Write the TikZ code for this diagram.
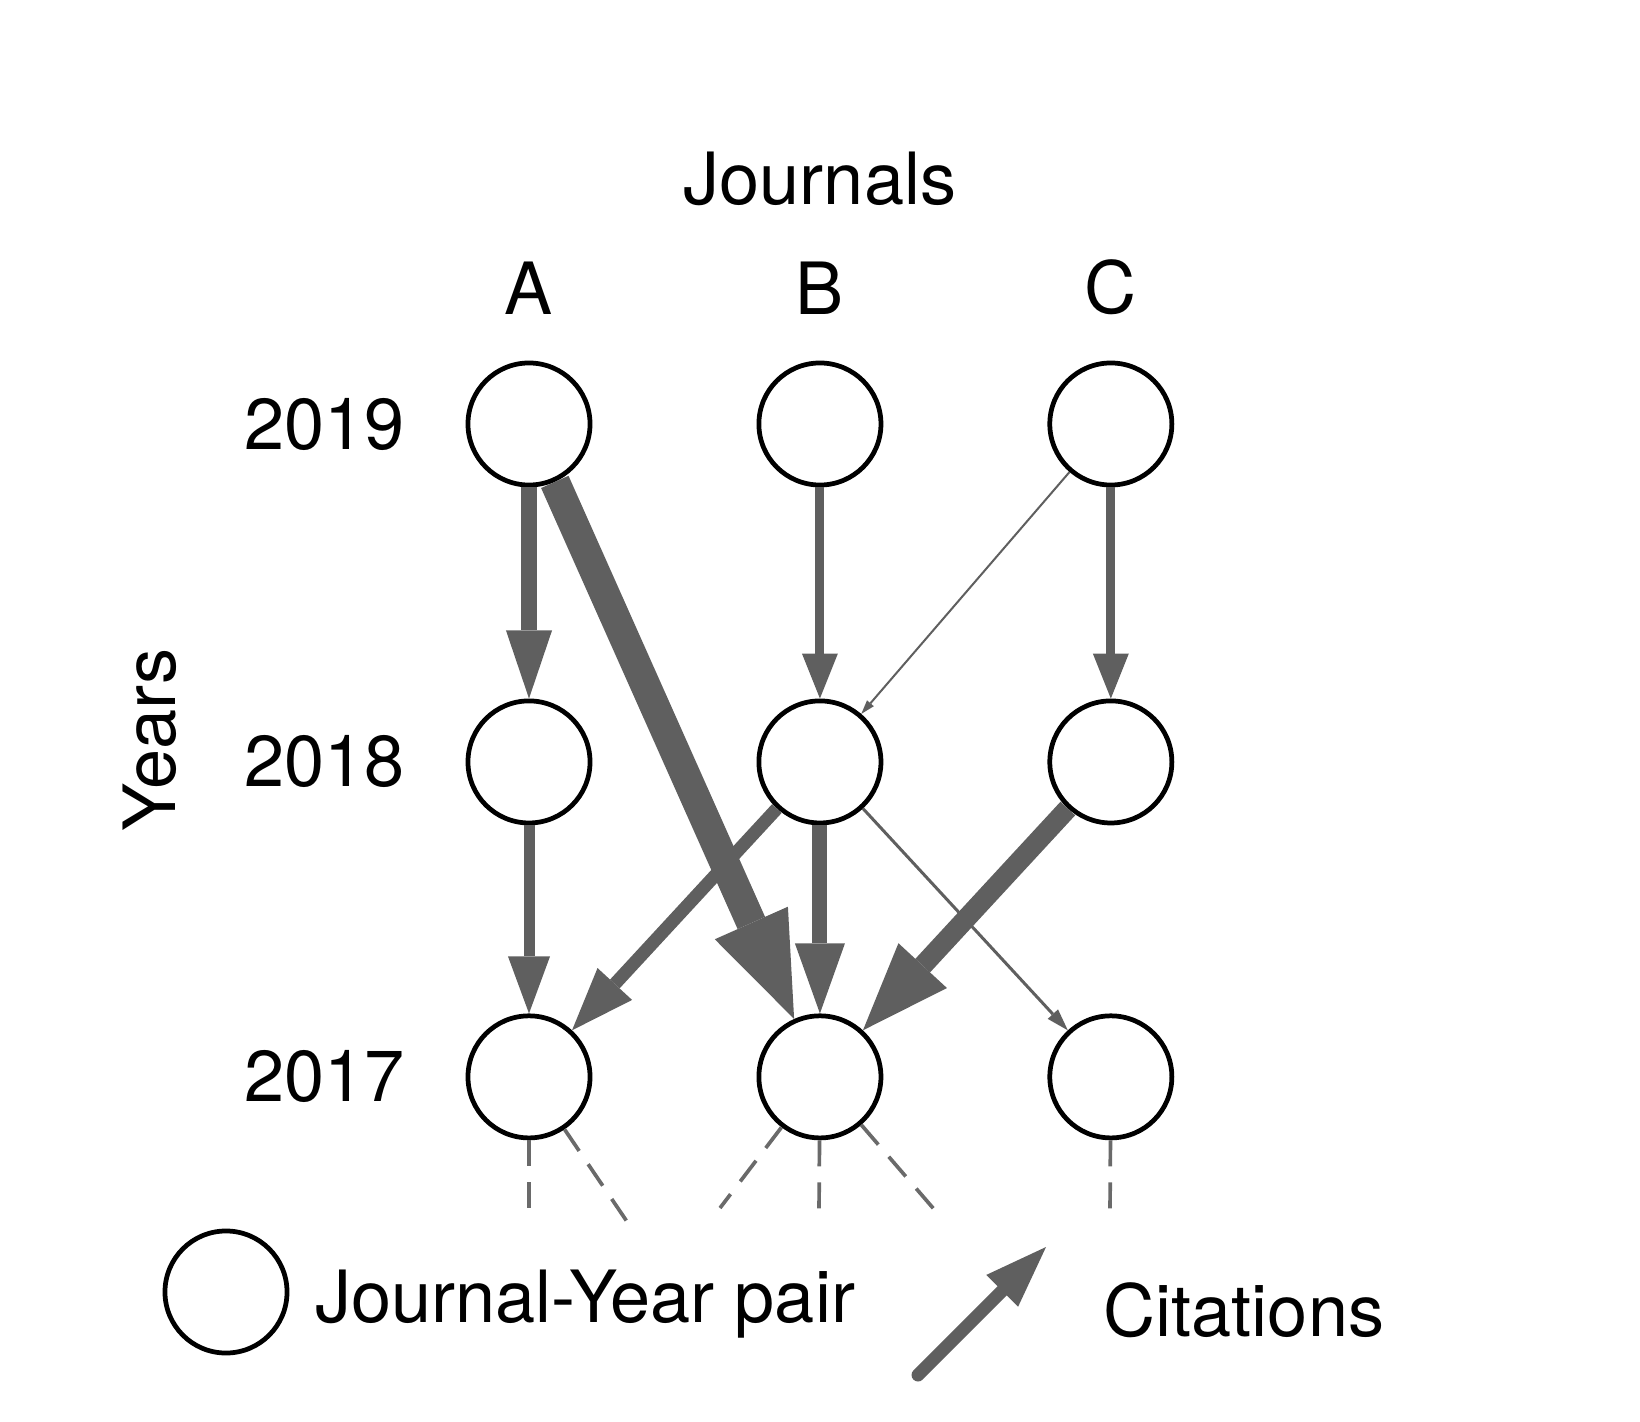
\documentclass[tikz,border=0pt]{standalone}
\usepackage{fontspec}
\setmainfont{TeX Gyre Heros}
\usetikzlibrary{positioning, arrows.meta}
\definecolor{citegray}{HTML}{5F5F5F}
\definecolor{dashgray}{HTML}{6A6A6A}

\begin{document}
\begin{tikzpicture}[
    x=0.01cm, y=-0.01cm,
    pair/.style={circle, draw, line width=1.35pt, minimum size=1.22cm, inner sep=0pt},
    lbl/.style={font=\fontsize{20.5}{24}\selectfont, inner sep=0pt},
    cite/.style n args={3}{draw=citegray, line width=#1, -{Triangle[line width=0pt, length=#2, width=#3]}},
    older/.style={draw=dashgray, line width=1.05pt, dash pattern=on 0.26cm off 0.16cm},
]
\useasboundingbox (0,0) rectangle (1640,1422);

%% NODES
    % 2019
    \node[pair] (a19) at (529,424) {};
    \node[pair, right=1.64cm of a19] (b19) {};
    \node[pair, right=1.64cm of b19] (c19) {};

    % 2018
    \node[pair, below=2.11cm of a19] (a18) {};
    \node[pair, below=2.11cm of b19] (b18) {};
    \node[pair, below=2.11cm of c19] (c18) {};

    % 2017
    \node[pair, below=1.88cm of a18] (a17) {};
    \node[pair, below=1.88cm of b18] (b17) {};
    \node[pair, below=1.88cm of c18] (c17) {};

    % journals
    \node[lbl, above=0.45cm of a19] (ja) {A};
    \node[lbl, above=0.45cm of b19] (jb) {B};
    \node[lbl, above=0.45cm of c19] (jc) {C};
    \node[lbl, above=0.55cm of jb] (journals) {Journals};

    % years
    \node[lbl, left=0.6cm of a19] (y19) {2019};
    \node[lbl, left=0.6cm of a18] (y18) {2018};
    \node[lbl, left=0.6cm of a17] (y17) {2017};
    \node[lbl, rotate=90] (years) at (150,740) {Years};

    % older years
    \coordinate (a16) at (529,1213);
    \coordinate (ab16) at (630,1226);
    \coordinate (ba16) at (720,1208);
    \coordinate (b16) at (819,1213);
    \coordinate (bc16) at (939,1215);
    \coordinate (c16) at (1110,1213);

    % legend
    \node[pair] (legpair) at (226,1292) {};
    \node[lbl, right=0.25cm of legpair, yshift=-0.12cm] (legpairtext) {Journal-Year pair};
    \coordinate (legtail) at (918,1375);
    \coordinate (leghead) at (1046,1247);
    \node[lbl, anchor=west] (legcite) at (1103,1310) {Citations};

%% CONNECTIONS
    % 2019 -> 2018
    \draw[cite={0.16cm}{0.68cm}{0.46cm}] (a19) -- (a18);
    \draw[cite={0.09cm}{0.45cm}{0.36cm}] (b19) -- (b18);
    \draw[cite={0.09cm}{0.45cm}{0.36cm}] (c19) -- (c18);
    \draw[cite={0.02cm}{0.14cm}{0.09cm}] (c19) -- (b18);

    % 2019 -> 2017
    \draw[cite={0.3cm}{1.05cm}{0.8cm}] (a19) -- (b17);

    % 2018 -> 2017
    \draw[cite={0.11cm}{0.57cm}{0.42cm}] (a18) -- (a17);
    \draw[cite={0.15cm}{0.7cm}{0.5cm}] (b18) -- (b17);
    \draw[cite={0.13cm}{0.63cm}{0.47cm}] (b18) -- (a17);
    \draw[cite={0.2cm}{0.88cm}{0.66cm}] (c18) -- (b17);
    \draw[cite={0.03cm}{0.22cm}{0.14cm}] (b18) -- (c17);

    % 2017 -> older
    \draw[older] (a17) -- (a16);
    \draw[older] (a17) -- (ab16);
    \draw[older] (b17) -- (ba16);
    \draw[older] (b17) -- (b16);
    \draw[older] (b17) -- (bc16);
    \draw[older] (c17) -- (c16);

    % legend arrow
    \draw[cite={0.13cm}{0.62cm}{0.45cm}, line cap=round] (legtail) -- (leghead);

\end{tikzpicture}
\end{document}
